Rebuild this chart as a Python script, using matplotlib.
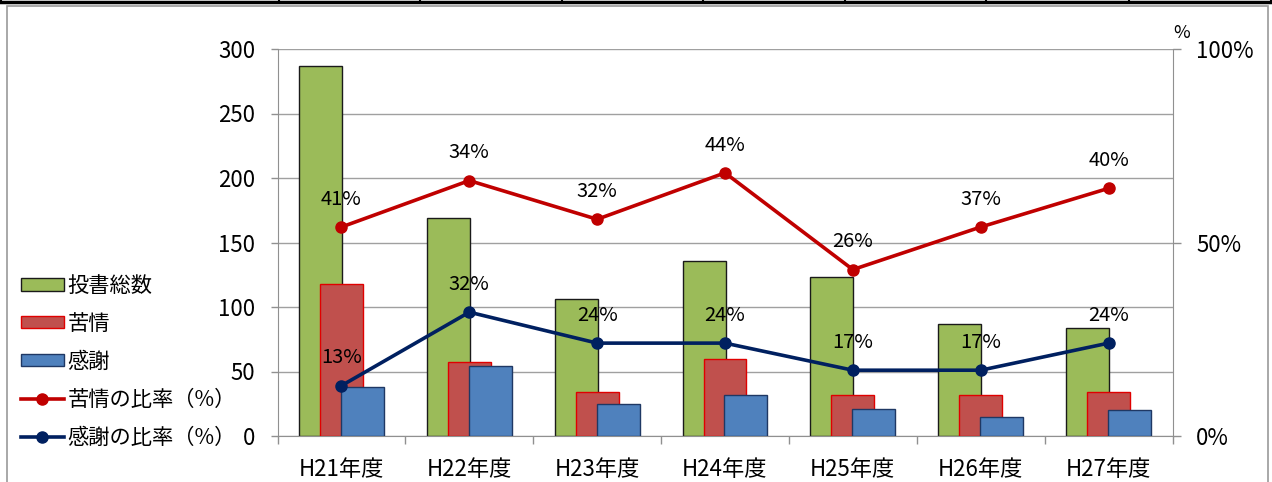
import numpy as np
import matplotlib.pyplot as plt
from matplotlib.patches import Patch, Rectangle
from matplotlib.lines import Line2D

plt.rcParams['font.family'] = ['Noto Sans CJK JP', 'DejaVu Sans']

years = ['H21年度', 'H22年度', 'H23年度', 'H24年度', 'H25年度', 'H26年度', 'H27年度']
total = [287, 169, 106, 136, 123, 87, 84]
complaints = [118, 57, 34, 60, 32, 32, 34]
thanks = [38, 54, 25, 32, 21, 15, 20]
rate_complaints = [41, 34, 32, 44, 26, 37, 40]
rate_thanks = [13, 32, 24, 24, 17, 17, 24]

W, H = 1272, 482
fig = plt.figure(figsize=(W / 100, H / 100), dpi=100)


def fx(px):
    return px / W


def fy(py):
    return 1 - py / H


# outer frame and table strip at the top
fig.add_artist(Rectangle((fx(7), fy(500)), fx(1268) - fx(7), fy(6) - fy(500),
                         transform=fig.transFigure, fill=False, ec='#9a9a9a', lw=1.2))
fig.add_artist(Line2D([0, 1], [fy(2), fy(2)], transform=fig.transFigure, color='black', lw=2.5))
for sx in [1, 279, 420, 562, 703, 845, 986, 1129, 1271]:
    fig.add_artist(Line2D([fx(sx), fx(sx)], [fy(2), 1], transform=fig.transFigure,
                          color='black', lw=1.5))

ax = fig.add_axes([fx(277.5), fy(436), fx(1172.5) - fx(277.5), fy(49) - fy(436)])
x = np.arange(len(years))
w = 0.336
off = 0.164
ax.bar(x - off, total, w, color='#9BBB59', edgecolor='#1a1a1a', lw=1.0, zorder=2)
ax.bar(x, complaints, w, color='#C0504D', edgecolor='#E00000', lw=1.0, zorder=3)
ax.bar(x + off, thanks, w, color='#4F81BD', edgecolor='#1F3864', lw=1.0, zorder=4)

ax.set_xlim(-0.5, len(years) - 0.5)
ax.set_ylim(0, 300)
ax.set_yticks(range(0, 301, 50))
ax.yaxis.grid(True, color='#a0a0a0', lw=1.0)
ax.set_axisbelow(True)
ax.set_xticks(x)
ax.set_xticklabels(years)
ax.set_xticks(np.arange(-0.5, len(years)), minor=True)
ax.tick_params(axis='x', which='major', length=0, pad=16, labelsize=16)
ax.tick_params(axis='x', which='minor', length=6, color='#909090', width=1)
ax.tick_params(axis='y', length=5, color='#909090', width=1, pad=11, labelsize=16)
for s in ['top', 'right']:
    ax.spines[s].set_visible(False)
for s in ['left', 'bottom']:
    ax.spines[s].set_color('#909090')

ax2 = ax.twinx()
ax2.set_ylim(0, 100)
ax2.set_yticks([0, 50, 100])
ax2.set_yticklabels(['0%', '50%', '100%'])
ax2.tick_params(axis='y', length=6, color='#909090', width=1, pad=11, labelsize=16)
for s in ['top', 'left', 'bottom']:
    ax2.spines[s].set_visible(False)
ax2.spines['right'].set_color('#909090')

# complaint line is stacked on top of the thanks line
stacked = np.array(rate_thanks) + np.array(rate_complaints)
ax2.plot(x, stacked, color='#C00000', lw=2.6, marker='o', ms=8, zorder=5)
ax2.plot(x, rate_thanks, color='#002060', lw=2.6, marker='o', ms=8, zorder=5)
for xi, yv, lab in zip(x, stacked, rate_complaints):
    ax2.annotate(f'{lab}%', (xi, yv), xytext=(0, 20), textcoords='offset points',
                 ha='center', va='center', fontsize=14.5)
for xi, yv in zip(x, rate_thanks):
    ax2.annotate(f'{yv}%', (xi, yv), xytext=(0, 20), textcoords='offset points',
                 ha='center', va='center', fontsize=14.5)

fig.text(fx(1182), fy(33), '%', ha='center', va='center', fontsize=13)

handles = [
    Patch(facecolor='#9BBB59', edgecolor='#1a1a1a'),
    Patch(facecolor='#C0504D', edgecolor='#E00000'),
    Patch(facecolor='#4F81BD', edgecolor='#1F3864'),
    Line2D([], [], color='#C00000', lw=2.6, marker='o', ms=8),
    Line2D([], [], color='#002060', lw=2.6, marker='o', ms=8),
]
labels = ['投書総数', '苦情', '感謝', '苦情の比率（%）', '感謝の比率（%）']
fig.legend(handles, labels, loc='upper left', bbox_to_anchor=(fx(21), fy(275)),
           frameon=False, fontsize=15.3, handlelength=2.0, handleheight=0.5,
           handletextpad=0.2, labelspacing=0.75, borderpad=0, borderaxespad=0)

fig.savefig('out.png', dpi=100)
